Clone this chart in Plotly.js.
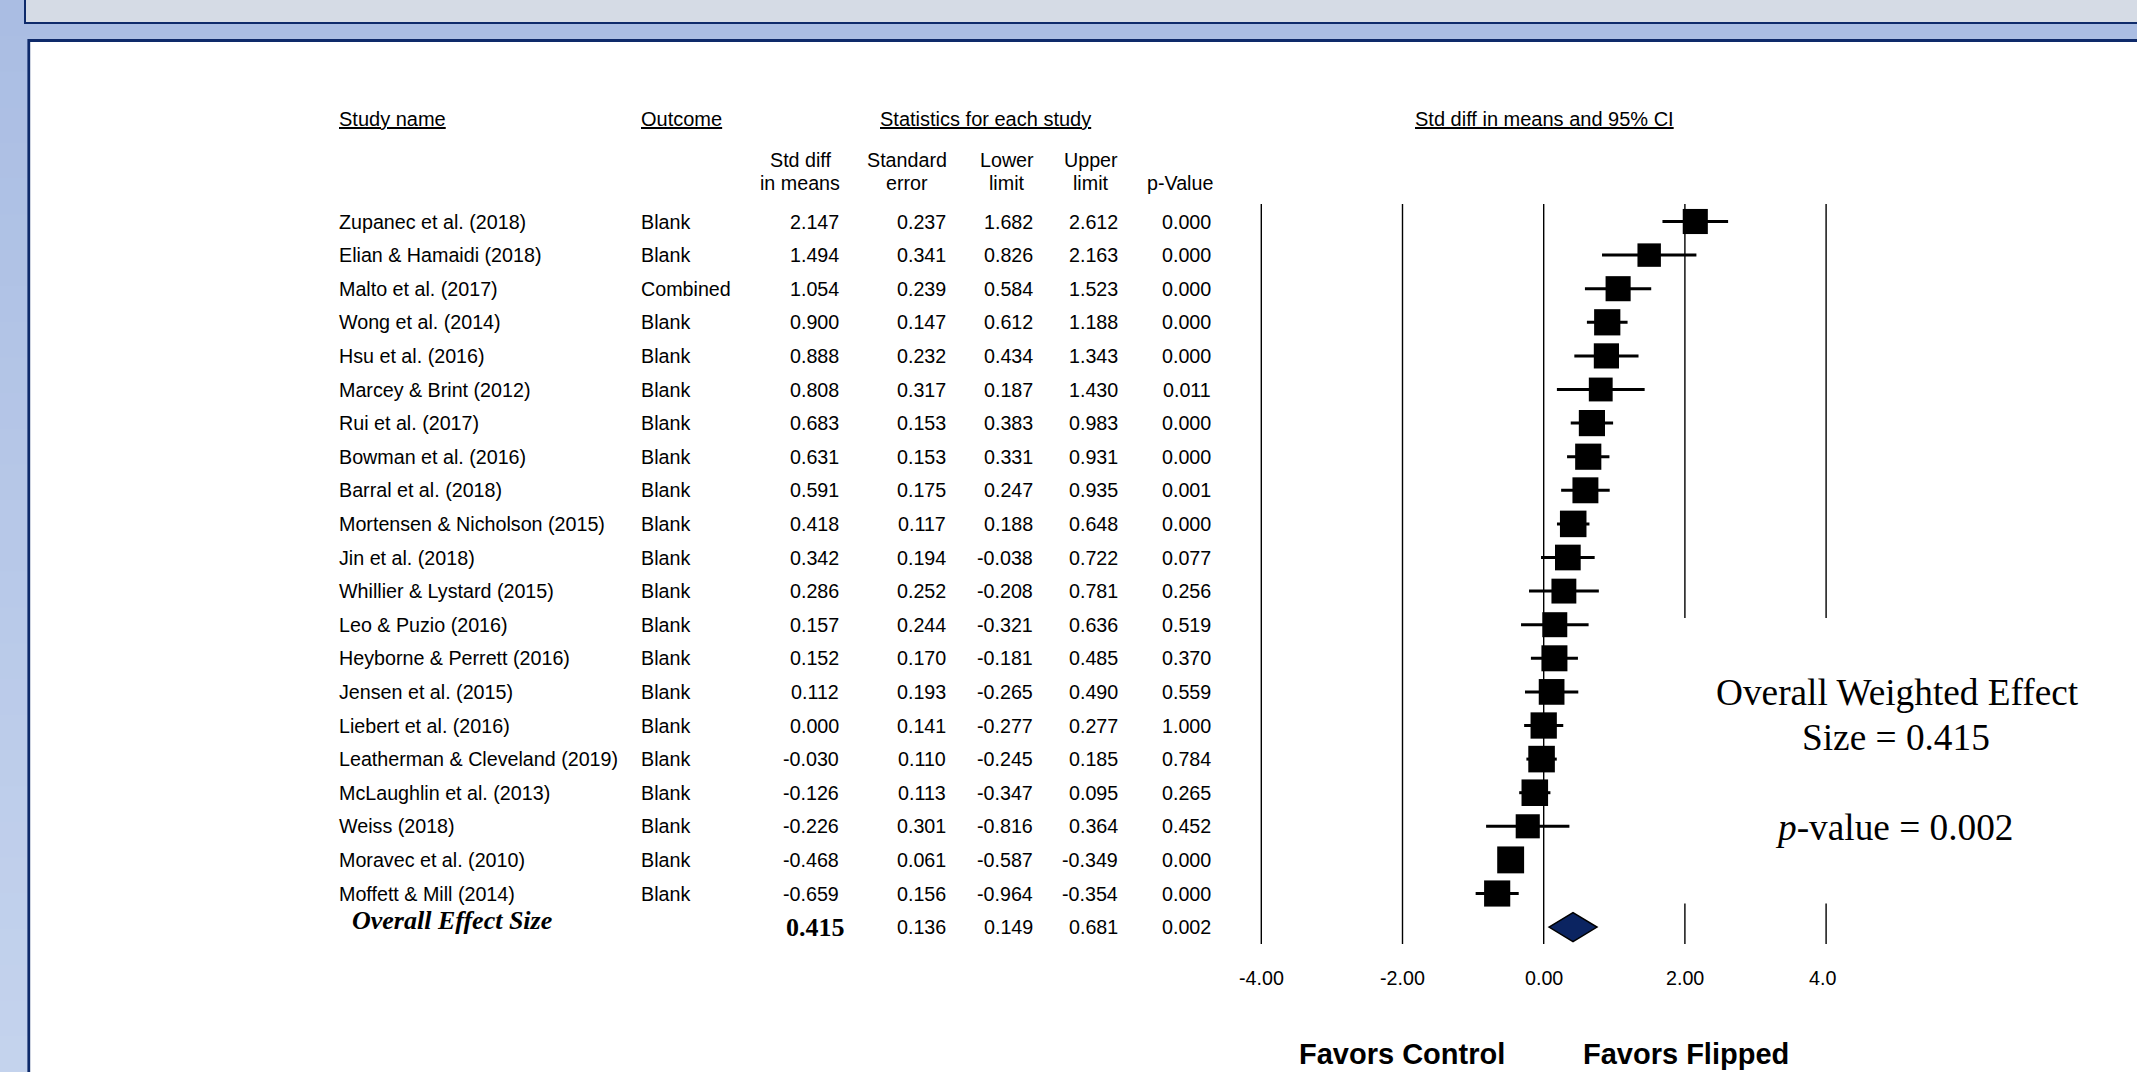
<!DOCTYPE html>
<html><head><meta charset="utf-8">
<script src="https://cdn.plot.ly/plotly-3.0.1.min.js"></script>
<style>html,body{margin:0;padding:0;background:#adc1e6;overflow:hidden}#chart{width:2137px;height:1072px}</style>
</head><body><div id="chart"></div>
<script>
// ---------------- DATA ----------------
const studies = ["Zupanec et al. (2018)", "Elian & Hamaidi (2018)", "Malto et al. (2017)", "Wong et al. (2014)",
  "Hsu et al. (2016)", "Marcey & Brint (2012)", "Rui et al. (2017)", "Bowman et al. (2016)", "Barral et al. (2018)",
  "Mortensen & Nicholson (2015)", "Jin et al. (2018)", "Whillier & Lystard (2015)", "Leo & Puzio (2016)",
  "Heyborne & Perrett (2016)", "Jensen et al. (2015)", "Liebert et al. (2016)", "Leatherman & Cleveland (2019)",
  "McLaughlin et al. (2013)", "Weiss (2018)", "Moravec et al. (2010)", "Moffett & Mill (2014)"];
const outcomes = ["Blank", "Blank", "Combined", "Blank", "Blank", "Blank", "Blank", "Blank", "Blank", "Blank", "Blank",
  "Blank", "Blank", "Blank", "Blank", "Blank", "Blank", "Blank", "Blank", "Blank", "Blank"];
const stdDiff = [2.147, 1.494, 1.054, 0.900, 0.888, 0.808, 0.683, 0.631, 0.591, 0.418, 0.342, 0.286, 0.157, 0.152,
  0.112, 0.000, -0.030, -0.126, -0.226, -0.468, -0.659];
const stdErr = [0.237, 0.341, 0.239, 0.147, 0.232, 0.317, 0.153, 0.153, 0.175, 0.117, 0.194, 0.252, 0.244, 0.170,
  0.193, 0.141, 0.110, 0.113, 0.301, 0.061, 0.156];
const lowerLimit = [1.682, 0.826, 0.584, 0.612, 0.434, 0.187, 0.383, 0.331, 0.247, 0.188, -0.038, -0.208, -0.321,
  -0.181, -0.265, -0.277, -0.245, -0.347, -0.816, -0.587, -0.964];
const upperLimit = [2.612, 2.163, 1.523, 1.188, 1.343, 1.430, 0.983, 0.931, 0.935, 0.648, 0.722, 0.781, 0.636,
  0.485, 0.490, 0.277, 0.185, 0.095, 0.364, -0.349, -0.354];
const pValue = [0.000, 0.000, 0.000, 0.000, 0.000, 0.011, 0.000, 0.000, 0.001, 0.000, 0.077, 0.256, 0.519, 0.370,
  0.559, 1.000, 0.784, 0.265, 0.452, 0.000, 0.000];
const overallLabel = "Overall Effect Size";
const overallEst = 0.415, overallSE = 0.136, overallLower = 0.149, overallUpper = 0.681, overallP = 0.002;
const tickVals = [-4, -2, 0, 2, 4];
const tickText = ["-4.00", "-2.00", "0.00", "2.00", "4.0"];
const headerStudy = "Study name", headerOutcome = "Outcome", headerStats = "Statistics for each study";
const headerPlot = "Std diff in means and 95% CI";
const subHeadTop = ["Std diff", "Standard", "Lower", "Upper", ""];
const subHeadBottom = ["in means", "error", "limit", "limit", "p-Value"];
const favorsLeft = "Favors Control", favorsRight = "Favors Flipped";

// ---------------- LAYOUT GEOMETRY ----------------
const W = 2137, H = 1072;
const ZERO_PX = 1543.7, UNIT_PX = 70.6;    // x scale
const ROW1_PX = 221.5, ROW_PX = 33.6;      // row scale
const xRange = [(0 - ZERO_PX) / UNIT_PX, (W - ZERO_PX) / UNIT_PX];
const yRange = [1 + (H - ROW1_PX) / ROW_PX, 1 + (0 - ROW1_PX) / ROW_PX];
const px = v => v / W;
const py = v => 1 - v / H;

const SANS = "Liberation Sans, Arial, sans-serif";
const SERIF = "Liberation Serif, Times New Roman, serif";
const FS = 19.7;
const rows = studies.map((_, i) => i + 1);
const overallRow = studies.length + 1;

const fmt = v => v.toFixed(3);
const colRight = [840, 947, 1034, 1119, 1212];
const subCenter = [800, 907, 1007, 1091, 1180];

const annotations = [];
function txt(text, x, y, opts) {
  annotations.push(Object.assign({
    text: text, x: x, y: y, xref: 'paper', yref: 'paper', showarrow: false,
    xanchor: 'left', yanchor: 'middle', borderpad: 0,
    font: {family: SANS, size: FS, color: '#000'}
  }, opts || {}));
}
// headers
const uFont = {family: SANS, size: 20, color: '#000', lineposition: 'under'};
txt(headerStudy, px(338), py(119), {font: uFont});
txt(headerOutcome, px(640), py(119), {font: uFont});
txt(headerStats, px(985), py(119), {xanchor: 'center', font: uFont});
txt(headerPlot, px(1544), py(119), {xanchor: 'center', font: uFont});
subHeadTop.forEach((t, i) => { if (t) txt(t, px(subCenter[i]), py(160), {xanchor: 'center'}); });
subHeadBottom.forEach((t, i) => txt(t, px(subCenter[i]), py(182.5), {xanchor: 'center'}));

// rows
const cols = [stdDiff, stdErr, lowerLimit, upperLimit, pValue];
studies.forEach((s, i) => {
  const r = rows[i];
  txt(s, px(338), r, {yref: 'y'});
  txt(outcomes[i], px(640), r, {yref: 'y'});
  cols.forEach((c, j) => txt(fmt(c[i]), px(colRight[j]), r, {yref: 'y', xanchor: 'right'}));
});
// overall row
txt(overallLabel, px(351), overallRow - 0.2, {yref: 'y', font: {family: SERIF, size: 26, color: '#000', weight: 'bold', style: 'italic'}});
txt(fmt(overallEst), px(846), overallRow, {yref: 'y', xanchor: 'right', font: {family: SERIF, size: 26, color: '#000', weight: 'bold'}});
[overallSE, overallLower, overallUpper, overallP].forEach((v, j) =>
  txt(fmt(v), px(colRight[j + 1]), overallRow, {yref: 'y', xanchor: 'right'}));

// tick labels
const tickShift = [0, 0, 0, 0, -4];
tickVals.forEach((v, i) => txt(tickText[i], v, py(977.5), {xref: 'x', xanchor: 'center', xshift: tickShift[i]}));

// favors
const favFont = {family: SANS, size: 29, color: '#000', weight: 'bold'};
txt(favorsLeft, px(1298), py(1054), {font: favFont});
txt(favorsRight, px(1582), py(1054), {font: favFont});

// overall effect note
const noteFont = {family: SERIF, size: 37.3, color: '#000'};
txt("Overall Weighted Effect", px(1897), py(692), {xanchor: 'center', font: noteFont});
txt("Size = " + fmt(overallEst), px(1896), py(737), {xanchor: 'center', font: noteFont});
txt("<i>p</i>-value = " + fmt(overallP), px(1894), py(827), {xanchor: 'center', font: noteFont});

// ---------------- SHAPES ----------------
const shapes = [];
// background gradient (left strip)
const N = 30, c0 = [170, 189, 227], c1 = [196, 211, 237];
for (let i = 0; i < N; i++) {
  const t = i / (N - 1);
  const c = c0.map((a, k) => Math.round(a + (c1[k] - a) * t));
  shapes.push({type: 'rect', xref: 'paper', yref: 'paper', x0: 0, x1: 1, y0: 1 - (i + 1) / N - 0.002, y1: 1 - i / N,
    fillcolor: `rgb(${c.join(',')})`, line: {width: 0}, layer: 'below'});
}
const NAVY = '#0e2a6a';
shapes.push({type: 'rect', xref: 'paper', yref: 'paper', x0: px(25), x1: px(W + 10), y0: py(23), y1: py(-10),
  fillcolor: '#d5dbe5', line: {color: NAVY, width: 2}, layer: 'below'});
shapes.push({type: 'rect', xref: 'paper', yref: 'paper', x0: px(28.8), x1: px(W + 10), y0: py(H + 10), y1: py(40.5),
  fillcolor: '#ffffff', line: {color: NAVY, width: 2.8}, layer: 'below'});
// reference lines
const lineTop = 0.48, lineBottom = 22.5, gapTop = 12.8, gapBottom = 21.3;
tickVals.forEach(v => {
  const segs = v > 0 ? [[lineTop, gapTop], [gapBottom, lineBottom]] : [[lineTop, lineBottom]];
  segs.forEach(s => shapes.push({type: 'line', xref: 'x', yref: 'y', x0: v, x1: v, y0: s[0], y1: s[1],
    line: {color: '#000', width: 1.4}, layer: 'below'}));
});
// overall diamond
shapes.push({type: 'path', xref: 'x', yref: 'y', xsizemode: 'pixel', ysizemode: 'pixel',
  xanchor: overallEst, yanchor: overallRow, path: 'M-24,0 L0,14.5 L24,0 L0,-14.5 Z',
  fillcolor: '#0b2461', line: {color: '#000', width: 1.5}, layer: 'above'});

// ---------------- TRACES ----------------
const TAU2 = 0.35;
const sizes = stdErr.map(se => 16 * Math.sqrt(1 / (se * se + TAU2)));
const trace = {
  type: 'scatter', mode: 'markers', x: stdDiff, y: rows, cliponaxis: false, hoverinfo: 'skip',
  marker: {symbol: 'square', size: sizes, color: '#000', opacity: 1, line: {width: 0}},
  error_x: {type: 'data', symmetric: false,
    array: upperLimit.map((u, i) => u - stdDiff[i]),
    arrayminus: lowerLimit.map((l, i) => stdDiff[i] - l),
    color: '#000', thickness: 3, width: 0}
};

const layout = {
  width: W, height: H, margin: {l: 0, r: 0, t: 0, b: 0},
  paper_bgcolor: '#adc1e6', plot_bgcolor: 'rgba(0,0,0,0)', showlegend: false,
  xaxis: {range: xRange, visible: false, fixedrange: true, domain: [0, 1]},
  yaxis: {range: yRange, visible: false, fixedrange: true, domain: [0, 1]},
  shapes: shapes, annotations: annotations
};
Plotly.newPlot('chart', [trace], layout, {staticPlot: true, displayModeBar: false});
</script>
</body></html>
